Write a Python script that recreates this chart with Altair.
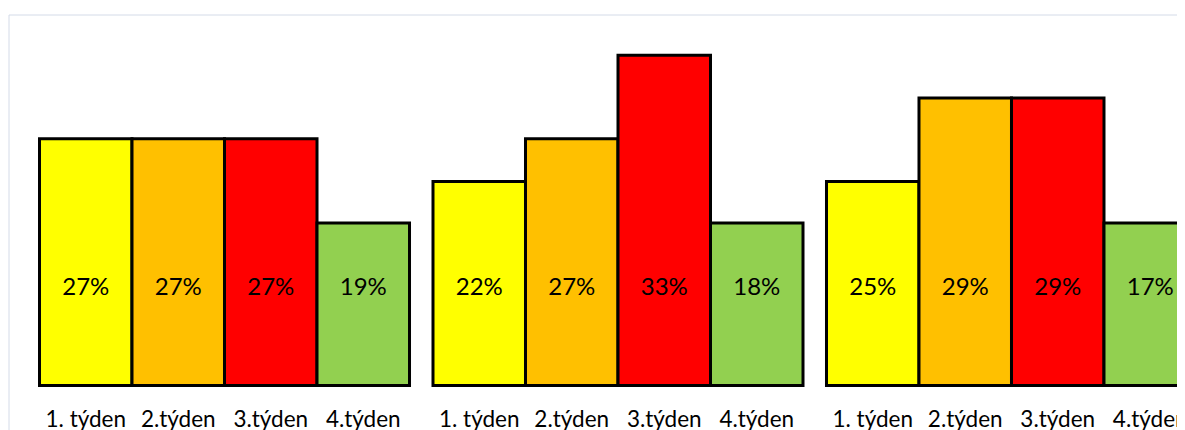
import altair as alt
import pandas as pd

groups = ["1", "2", "3"]
weeks = ["1. týden", "2.týden", "3.týden", "4.týden"]
colors = ["#FFFF00", "#FFC000", "#FF0000", "#92D050"]

# bar heights (relative units)
heights_g1 = [5.89, 5.89, 5.89, 3.88]
heights_g2 = [4.87, 5.89, 7.88, 3.88]
heights_g3 = [4.87, 6.86, 6.86, 3.88]

labels_g1 = ["27%", "27%", "27%", "19%"]
labels_g2 = ["22%", "27%", "33%", "18%"]
labels_g3 = ["25%", "29%", "29%", "17%"]

rows = []
for g, hs, ls in zip(groups, [heights_g1, heights_g2, heights_g3],
                     [labels_g1, labels_g2, labels_g3]):
    for w, h, l in zip(weeks, hs, ls):
        rows.append({"group": g, "week": w, "h": h, "label": l})
df = pd.DataFrame(rows)

FONT = "Lato"

x = alt.X("group:N", sort=groups, axis=None,
          scale=alt.Scale(paddingInner=0.0597, paddingOuter=0.0788))
xoff = alt.XOffset("week:N", sort=weeks)
yscale = alt.Scale(domain=[-1.885, 8.854], nice=False)

base = alt.Chart(df)

bars = base.mark_bar(stroke="#000000", strokeWidth=3).encode(
    x=x,
    xOffset=xoff,
    y=alt.Y("h:Q", scale=yscale, axis=None, stack=None),
    y2=alt.datum(0),
    color=alt.Color("week:N", scale=alt.Scale(domain=weeks, range=colors), legend=None),
)

values = base.mark_text(font=FONT, fontSize=24, baseline="alphabetic", align="center",
                        color="#000000").encode(
    x=x,
    xOffset=xoff,
    y=alt.datum(2.15),
    text="label:N",
)

cats = base.mark_text(font=FONT, fontSize=22.5, baseline="alphabetic", align="center",
                      color="#000000").encode(
    x=x,
    xOffset=xoff,
    y=alt.datum(-1.0),
    text="week:N",
)

chart = alt.layer(bars, values, cats).properties(
    width=1219,
    height=450,
    autosize=alt.AutoSizeParams(type="none"),
    padding={"left": 0.5, "top": 6.5, "right": -50.5, "bottom": -34.5},
    background="#FFFFFF",
).configure_view(stroke="#D4DBE8", strokeWidth=1)

chart.save("out.html", embed_options={"renderer": "svg", "actions": False})
